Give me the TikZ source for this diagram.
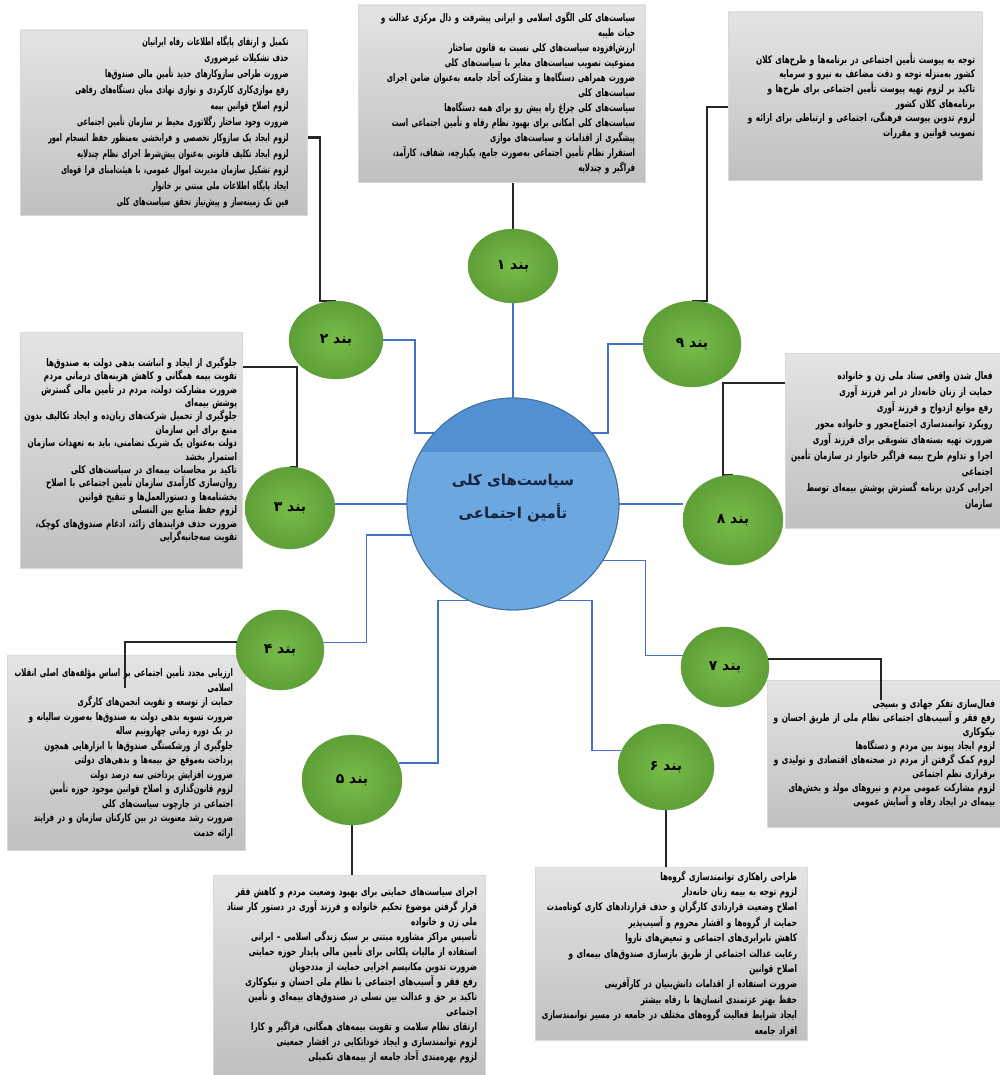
\documentclass[tikz,border=0pt]{standalone}
\usepackage{fontspec}
\usetikzlibrary{shapes.geometric,calc,backgrounds}
\TeXXeTstate=1
\newfontfamily\fareg[Script=Arabic,FakeStretch=0.69]{DejaVu Sans}
\newfontfamily\famid[Script=Arabic,FakeStretch=0.65]{DejaVu Sans}
\newfontfamily\fanar[Script=Arabic,FakeStretch=0.61]{DejaVu Sans}
\newfontfamily\fabig[Script=Arabic]{DejaVu Sans}
\definecolor{gboxa}{HTML}{E4E4E4}
\definecolor{gboxb}{HTML}{C0C0C0}
\definecolor{greena}{HTML}{78BC4B}
\definecolor{greenb}{HTML}{5E9F37}
\definecolor{cbluea}{HTML}{6DA7DF}
\definecolor{cblueb}{HTML}{5390D1}
\definecolor{cedge}{HTML}{41719C}
\definecolor{cline}{HTML}{4472C4}
\definecolor{bline}{HTML}{262626}
\definecolor{navy}{HTML}{17223F}
\newcommand\faline[1]{\hbox to \hsize{\hss\beginR #1\endR}}
\begin{document}
\begin{tikzpicture}[x=1pt,y=-1pt,
  box/.style={rectangle, draw=gray!30, line width=0.4pt, top color=gboxa, bottom color=gboxb, inner sep=0pt, align=right},
  btxt/.style={font=\fareg\bfseries\fontsize{10.5}{#1}\selectfont},
  btxtm/.style={font=\famid\bfseries\fontsize{10.5}{#1}\selectfont},
  btxtn/.style={font=\fanar\bfseries\fontsize{10.5}{#1}\selectfont},
  bnd/.style={ellipse, inner color=greena, outer color=greenb, draw=greenb, line width=0.3pt, inner sep=0pt, text=black, font=\fabig\bfseries\fontsize{14}{16}\selectfont},
  bl/.style={draw=cline, line width=1.4pt},
  kl/.style={draw=bline, line width=2.2pt}]
\begin{scope}[on background layer]
\fill[white] (0,0) rectangle (1000,1075);
\end{scope}
\useasboundingbox (0,0) rectangle (1000,1075);

% boxes
\node[box, btxtm=15, minimum width=287pt, minimum height=177pt, text width=267pt] (box1) at (501.5,93.5) {
\faline{سیاست‌های کلی الگوی اسلامی و ایرانی پیشرفت و دال مرکزی عدالت و}
\faline{حیات طیبه}
\faline{ارزش‌افزوده سیاست‌های کلی نسبت به قانون ساختار}
\faline{ممنوعیت تصویب سیاست‌های مغایر با سیاست‌های کلی}
\faline{ضرورت همراهی دستگاه‌ها و مشارکت آحاد جامعه به‌عنوان ضامن اجرای}
\faline{سیاست‌های کلی}
\faline{سیاست‌های کلی چراغ راه پیش رو برای همه دستگاه‌ها}
\faline{سیاست‌های کلی امکانی برای بهبود نظام رفاه و تأمین اجتماعی است}
\faline{پیشگیری از اقدامات و سیاست‌های موازی}
\faline{استقرار نظام تأمین اجتماعی به‌صورت جامع، یکپارچه، شفاف، کارآمد،}
\faline{فراگیر و چندلایه}};

\node[box, btxtn=16, minimum width=287pt, minimum height=185pt, text width=250pt] (box2) at (163.5,122.5) {
\faline{تکمیل و ارتقای پایگاه اطلاعات رفاه ایرانیان}
\faline{حذف تشکیلات غیرضروری}
\faline{ضرورت طراحی سازوکارهای جدید تأمین مالی صندوق‌ها}
\faline{رفع موازی‌کاری کارکردی و توازی نهادی میان دستگاه‌های رفاهی}
\faline{لزوم اصلاح قوانین بیمه}
\faline{ضرورت وجود ساختار رگلاتوری محیط بر سازمان تأمین اجتماعی}
\faline{لزوم ایجاد یک سازوکار تخصصی و فرابخشی به‌منظور حفظ انسجام امور}
\faline{لزوم ایجاد تکلیف قانونی به‌عنوان پیش‌شرط اجرای نظام چندلایه}
\faline{لزوم تشکیل سازمان مدیریت اموال عمومی، با هیئت‌امنای فرا قوه‌ای}
\faline{ایجاد پایگاه اطلاعات ملی مبتنی بر خانوار}
\faline{فین تک زمینه‌ساز و پیش‌نیاز تحقق سیاست‌های کلی}};

\node[box, btxt=14.7, minimum width=254pt, minimum height=168pt, text width=240pt] (box9) at (855,96) {
\faline{توجه به پیوست تأمین اجتماعی در برنامه‌ها و طرح‌های کلان}
\faline{کشور به‌منزله توجه و دقت مضاعف به نیرو و سرمایه}
\faline{تاکید بر لزوم تهیه پیوست تأمین اجتماعی برای طرح‌ها و}
\faline{برنامه‌های کلان کشور}
\faline{لزوم تدوین پیوست فرهنگی، اجتماعی و ارتباطی برای ارائه و}
\faline{تصویب قوانین و مقررات}};

\node[box, btxt=13.4, minimum width=222pt, minimum height=236pt, text width=212pt] (box3) at (131,450) {
\faline{جلوگیری از ایجاد و انباشت بدهی دولت به صندوق‌ها}
\faline{تقویت بیمه همگانی و کاهش هزینه‌های درمانی مردم}
\faline{ضرورت مشارکت دولت، مردم در تأمین مالی گسترش}
\faline{پوشش بیمه‌ای}
\faline{جلوگیری از تحمیل شرکت‌های زیان‌ده و ایجاد تکالیف بدون}
\faline{منبع برای این سازمان}
\faline{دولت به‌عنوان یک شریک تضامنی، باید به تعهدات سازمان}
\faline{استمرار بخشد}
\faline{تاکید بر محاسبات بیمه‌ای در سیاست‌های کلی}
\faline{روان‌سازی کارآمدی سازمان تأمین اجتماعی با اصلاح}
\faline{بخشنامه‌ها و دستورالعمل‌ها و تنقیح قوانین}
\faline{لزوم حفظ منابع بین النسلی}
\faline{ضرورت حذف فرایندهای زائد، ادغام صندوق‌های کوچک،}
\faline{تقویت سه‌جانبه‌گرایی}};

\node[box, btxt=16, minimum width=215pt, minimum height=175pt, text width=200pt] (box8) at (892.5,440.5) {
\faline{فعال شدن واقعی ستاد ملی زن و خانواده}
\faline{حمایت از زنان خانه‌دار در امر فرزند آوری}
\faline{رفع موانع ازدواج و فرزند آوری}
\faline{رویکرد توانمندسازی اجتماع‌محور و خانواده محور}
\faline{ضرورت تهیه بسته‌های تشویقی برای فرزند آوری}
\faline{اجرا و تداوم طرح بیمه فراگیر خانوار در سازمان تأمین}
\faline{اجتماعی}
\faline{اجرایی کردن برنامه گسترش پوشش بیمه‌ای توسط}
\faline{سازمان}};

\node[box, btxtm=14.5, minimum width=238pt, minimum height=195pt, text width=214pt] (box4) at (126,752.5) {
\faline{ارزیابی مجدد تأمین اجتماعی بر اساس مؤلفه‌های اصلی انقلاب}
\faline{اسلامی}
\faline{حمایت از توسعه و تقویت انجمن‌های کارگری}
\faline{ضرورت تسویه بدهی دولت به صندوق‌ها به‌صورت سالیانه و}
\faline{در یک دوره زمانی چهارونیم ساله}
\faline{جلوگیری از ورشکستگی صندوق‌ها با ابزارهایی همچون}
\faline{پرداخت به‌موقع حق بیمه‌ها و بدهی‌های دولتی}
\faline{ضرورت افزایش پرداختی سه درصد دولت}
\faline{لزوم قانون‌گذاری و اصلاح قوانین موجود حوزه تأمین}
\faline{اجتماعی در چارچوب سیاست‌های کلی}
\faline{ضرورت رشد معنویت در بین کارکنان سازمان و در فرایند}
\faline{ارائه خدمت}};

\node[box, btxt=14, minimum width=233pt, minimum height=147pt, text width=223pt] (box7) at (883.5,753.5) {
\faline{فعال‌سازی تفکر جهادی و بسیجی}
\faline{رفع فقر و آسیب‌های اجتماعی نظام ملی از طریق احسان و}
\faline{نیکوکاری}
\faline{لزوم ایجاد پیوند بین مردم و دستگاه‌ها}
\faline{لزوم کمک گرفتن از مردم در صحنه‌های اقتصادی و تولیدی و}
\faline{برقراری نظم اجتماعی}
\faline{لزوم مشارکت عمومی مردم و نیروهای مولد و بخش‌های}
\faline{بیمه‌ای در ایجاد رفاه و آسایش عمومی}};

\node[box, btxt=15, minimum width=272pt, minimum height=200pt, text width=256pt] (box5) at (349,975) {
\faline{اجرای سیاست‌های حمایتی برای بهبود وضعیت مردم و کاهش فقر}
\faline{قرار گرفتن موضوع تحکیم خانواده و فرزند آوری در دستور کار ستاد}
\faline{ملی زن و خانواده}
\faline{تأسیس مراکز مشاوره مبتنی بر سبک زندگی اسلامی – ایرانی}
\faline{استفاده از مالیات پلکانی برای تأمین مالی پایدار حوزه حمایتی}
\faline{ضرورت تدوین مکانیسم اجرایی حمایت از مددجویان}
\faline{رفع فقر و آسیب‌های اجتماعی با نظام ملی احسان و نیکوکاری}
\faline{تاکید بر حق و عدالت بین نسلی در صندوق‌های بیمه‌ای و تأمین}
\faline{اجتماعی}
\faline{ارتقای نظام سلامت و تقویت بیمه‌های همگانی، فراگیر و کارا}
\faline{لزوم توانمندسازی و ایجاد خوداتکایی در اقشار جمعیتی}
\faline{لزوم بهره‌مندی آحاد جامعه از بیمه‌های تکمیلی}};

\node[box, btxt=15.4, minimum width=272pt, minimum height=173pt, text width=252pt] (box6) at (671,953.5) {
\faline{طراحی راهکاری توانمندسازی گروه‌ها}
\faline{لزوم توجه به بیمه زنان خانه‌دار}
\faline{اصلاح وضعیت قراردادی کارگران و حذف قراردادهای کاری کوتاه‌مدت}
\faline{حمایت از گروه‌ها و اقشار محروم و آسیب‌پذیر}
\faline{کاهش نابرابری‌های اجتماعی و تبعیض‌های ناروا}
\faline{رعایت عدالت اجتماعی از طریق بازسازی صندوق‌های بیمه‌ای و}
\faline{اصلاح قوانین}
\faline{ضرورت استفاده از اقدامات دانش‌بنیان در کارآفرینی}
\faline{حفظ بهتر عزتمندی انسان‌ها با رفاه بیشتر}
\faline{ایجاد شرایط فعالیت گروه‌های مختلف در جامعه در مسیر توانمندسازی}
\faline{افراد جامعه}};

% centre
\node[circle, minimum size=212pt, fill=cbluea, draw=cedge, line width=0.8pt, inner sep=0pt] (c) at (513,504) {};
\begin{scope}
\clip (c.center) circle (105.6pt);
\fill[cblueb] ($(c.north)+(-110,-2)$) rectangle ($(c.east)+(2,-52)$);
\end{scope}
\draw[cedge, line width=0.8pt] (c.center) circle (106pt);
\node[align=center, text=navy, inner sep=0pt, font=\fabig\bfseries\fontsize{15}{33}\selectfont] (ctitle) at ($(c.center)+(0,-6)$) {\beginR سیاست‌های کلی\endR\\\beginR تأمین اجتماعی\endR};

% items
\node[bnd, minimum width=90pt, minimum height=74pt] (b1) at (513,266) {\beginR بند ۱\endR};
\node[bnd, minimum width=94pt, minimum height=78pt] (b2) at (336,340) {\beginR بند ۲\endR};
\node[bnd, minimum width=90pt, minimum height=82pt] (b3) at (290,508) {\beginR بند ۳\endR};
\node[bnd, minimum width=88pt, minimum height=80pt] (b4) at (280,650) {\beginR بند ۴\endR};
\node[bnd, minimum width=100pt, minimum height=90pt] (b5) at (352,780) {\beginR بند ۵\endR};
\node[bnd, minimum width=96pt, minimum height=86pt] (b6) at (666,767) {\beginR بند ۶\endR};
\node[bnd, minimum width=88pt, minimum height=80pt] (b7) at (725,667) {\beginR بند ۷\endR};
\node[bnd, minimum width=100pt, minimum height=90pt] (b8) at (733,520) {\beginR بند ۸\endR};
\node[bnd, minimum width=98pt, minimum height=86pt] (b9) at (692,344) {\beginR بند ۹\endR};

\coordinate (b4end) at (125,688);
\coordinate (b7end) at (881,700);

\begin{scope}[on background layer]
% blue connectors
\draw[bl] (b1.south) -- (c.north);
\draw[bl] (b2.east) -| ($(c.138)+(-19,0)$) -- (c.138);
\draw[bl] (b9.west) -| ($(c.42)+(16,0)$) -- (c.42);
\draw[bl] (c.west) -- (c.west -| b3.east);
\draw[bl] (c.east) -- (c.east -| b8.west);
\draw[bl] (b4.10) -| ($(c.197)+(-45,0)$) -- (c.197);
\draw[bl] (c.-32) -- ++(42,0) |- (b7.165);
\draw[bl] (c.245) -- ++(-30,0) |- (b5.20);
\draw[bl] (c.-65) -- ++(34,0) |- (b6.160);
% black connectors
\draw[kl] (b1.north) -- (b1.north |- box1.south);
\draw[kl] ([yshift=-15pt]box2.east) -| ($(b2.north)+(-16,0)$) -- (b2.north);
\draw[kl] ([yshift=-11pt]box9.west) -| ($(b9.north)+(15,0)$) -- (b9.north);
\draw[kl] ([yshift=83pt]box3.east) -| ($(b3.north)+(7,0)$) -- (b3.north);
\draw[kl] ([yshift=57.5pt]box8.west) -| ($(b8.north)+(-10,0)$) -- (b8.north);
\draw[kl] (b5.south) -- (b5.south |- box5.north);
\draw[kl] (b6.south) -- (b6.south |- box6.north);
\end{scope}
\draw[kl] (b4.170) -| (b4end);
\draw[kl] (b7.10) -| (b7end);
\end{tikzpicture}
\end{document}
